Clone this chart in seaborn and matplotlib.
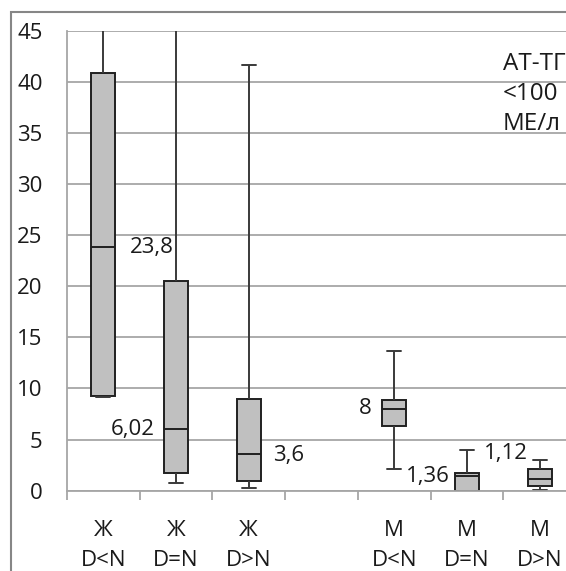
import numpy as np
import pandas as pd
import matplotlib
matplotlib.use("Agg")
import matplotlib.pyplot as plt
import seaborn as sns
from matplotlib.patches import Rectangle

# ---- data (five-number summaries) ----
categories = ["Ж\nD<N", "Ж\nD=N", "Ж\nD>N", "", "М\nD<N", "М\nD=N", "М\nD>N"]
zh_dlt = [9.2, 9.3, 23.8, 40.9, 60.0]
zh_deq = [0.72, 1.73, 6.02, 20.55, 60.0]
zh_dgt = [0.23, 0.98, 3.6, 8.97, 41.6]
m_dlt = [2.12, 6.36, 8.0, 8.87, 13.7]
m_deq = [0.0, 0.0, 1.42, 1.76, 3.98]
m_dgt = [0.05, 0.46, 1.12, 2.09, 3.0]
median_labels = ["23,8", "6,02", "3,6", None, "8", "1,36", "1,12"]
y_ticks = [0, 5, 10, 15, 20, 25, 30, 35, 40, 45]

groups = {categories[0]: zh_dlt, categories[1]: zh_deq, categories[2]: zh_dgt,
          categories[4]: m_dlt, categories[5]: m_deq, categories[6]: m_dgt}
rows = [(k, v) for k, vals in groups.items() for v in vals]
df = pd.DataFrame(rows, columns=["group", "value"])

sns.set_style("white")
plt.rcParams["font.family"] = ["Open Sans", "DejaVu Sans"]

W, H = 566, 571
fig = plt.figure(figsize=(W / 100, H / 100), dpi=100)
ax_left, ax_right = 67 / W, 576 / W
ax_top, ax_bot = 1 - 30.7 / H, 1 - 490.7 / H
ax = fig.add_axes([ax_left, ax_bot, ax_right - ax_left, ax_top - ax_bot])

dark = "#3a3a3a"
grid_c = "#a6a6a6"
txt_c = "#1a1a1a"
fs = 16
sns.boxplot(data=df, x="group", y="value", order=categories, whis=(0, 100),
            width=0.33, color="#c0c0c0", saturation=1, ax=ax,
            boxprops=dict(edgecolor="#202020", linewidth=1.4),
            medianprops=dict(color="#202020", linewidth=1.4),
            whiskerprops=dict(color=dark, linewidth=1.4),
            capprops=dict(color=dark, linewidth=1.4),
            capwidths=0.19)

ax.set_xlim(-0.5, 6.5)
ax.set_ylim(0, 45)
ax.set_xlabel("")
ax.set_ylabel("")

ax.set_yticks(y_ticks)
ax.set_yticklabels([str(t) for t in y_ticks], fontsize=fs)
ax.yaxis.grid(True, color=grid_c, linewidth=1.3)
ax.set_axisbelow(True)
ax.tick_params(axis="y", length=6.5, width=1.3, color=grid_c, pad=11, labelcolor=txt_c)

ax.set_xticks(np.arange(-0.5, 7, 1))
ax.set_xticklabels([""] * 8)
ax.tick_params(axis="x", which="major", length=6.5, width=1.3, color=grid_c, bottom=True)
ax.set_xticks(np.arange(len(categories)), minor=True)
ax.set_xticklabels(categories, minor=True, fontsize=fs, linespacing=1.6, color=txt_c)
ax.tick_params(axis="x", which="minor", length=0, pad=21)

for s in ["top", "right"]:
    ax.spines[s].set_visible(False)
for s in ["left", "bottom"]:
    ax.spines[s].set_color(grid_c)
    ax.spines[s].set_linewidth(1.3)

# median labels
label_pos = {0: (0.37, 23.8, "left"), 1: (0.71, 6.02, "right"), 2: (2.33, 3.4, "left"),
             4: (3.685, 8.0, "right"), 5: (4.765, 1.36, "right"), 6: (5.835, 3.6, "right")}
for i, lab in enumerate(median_labels):
    if lab is None:
        continue
    x, y, ha = label_pos[i]
    ax.text(x, y, lab, ha=ha, va="center", fontsize=fs, color=txt_c)

ax.text(5.49, 42.9, "АТ-ТГ\n<100\nМЕ/л", ha="left", va="top", fontsize=17.5,
        linespacing=1.33, color=txt_c, clip_on=False, zorder=0.5)

# outer chart frame
fig.patches.append(Rectangle((11 / W, -0.1), 1.2, 1 - 12 / H + 0.1, transform=fig.transFigure,
                             fill=False, edgecolor="#868686", linewidth=1.5))

fig.savefig("out.png", dpi=100)
